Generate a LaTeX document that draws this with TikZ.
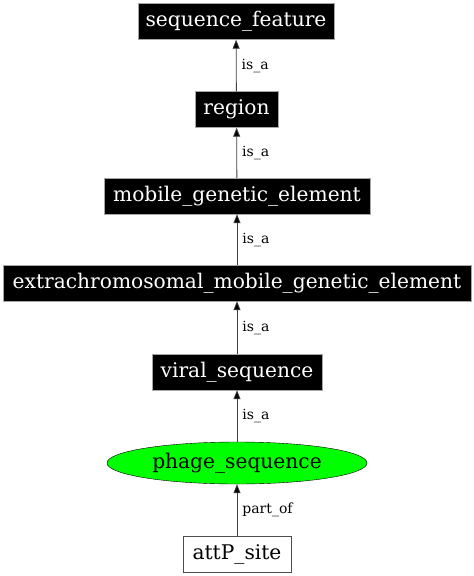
\documentclass[tikz,border=0pt]{standalone}
\usepackage{fontspec}
\setmainfont{DejaVu Serif}
\usetikzlibrary{arrows.meta,shapes.geometric}
\tikzset{
  blk/.style={rectangle, draw=gray!70, fill=black, text=white, font=\fontsize{20.2}{22}\selectfont, minimum height=36pt, inner sep=0pt},
  wht/.style={rectangle, draw=black!70, fill=white, text=black, font=\fontsize{20.2}{22}\selectfont, minimum height=36pt, inner sep=0pt},
  grn/.style={ellipse, draw=black, fill=green, text=black, font=\fontsize{20.2}{22}\selectfont, minimum width=260pt, minimum height=42pt, inner sep=0pt},
  rel/.style={draw=black!75, line width=0.8pt, -{Triangle[length=9pt,width=7pt,fill=black]}},
  lbl/.style={font=\fontsize{14}{15}\selectfont, right, inner sep=0pt, xshift=5pt}
}
\begin{document}
\begin{tikzpicture}[x=1pt,y=1pt]
\useasboundingbox (0,0) rectangle (474,-576);
\node[blk, minimum width=196pt] (sf) at (236,-21.5) {sequence\_feature};
\node[blk, minimum width=83pt] (rg) at (236.5,-109.5) {region};
\node[blk, minimum width=266pt] (mge) at (237,-196) {mobile\_genetic\_element};
\node[blk, minimum width=468pt] (emge) at (237,-283) {extrachromosomal\_mobile\_genetic\_element};
\node[blk, minimum width=170pt] (vs) at (237,-372) {viral\_sequence};
\node[grn] (ps) at (237,-463) {phage\_sequence};
\node[wht, minimum width=108pt] (att) at (237,-554) {attP\_site};
\draw[rel] (rg) -- node[lbl]{is\_a} (sf);
\draw[rel] (mge) -- node[lbl]{is\_a} (rg);
\draw[rel] (emge) -- node[lbl]{is\_a} (mge);
\draw[rel] (vs) -- node[lbl]{is\_a} (emge);
\draw[rel] (ps) -- node[lbl]{is\_a} (vs);
\draw[rel] (att) -- node[lbl]{part\_of} (ps);
\end{tikzpicture}
\end{document}
